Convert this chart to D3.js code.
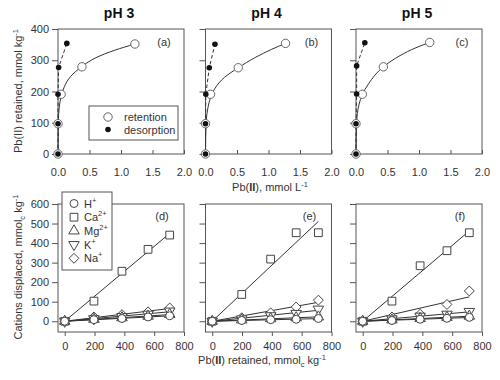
<!DOCTYPE html>
<html><head><meta charset="utf-8">
<script src="https://cdn.jsdelivr.net/npm/d3@7"></script>
<style>
body{margin:0;background:#fff;}
svg{font-family:"Liberation Sans",Arial,Helvetica,sans-serif;}
</style></head>
<body><svg id="c" width="500" height="380"></svg>
<script>
// ---------- DATA ----------
const phTitles = ["pH 3", "pH 4", "pH 5"];
const topLabels = ["(a)", "(b)", "(c)"];
const botLabels = ["(d)", "(e)", "(f)"];
const topXTicks = [0, 0.5, 1.0, 1.5, 2.0];
const topYTicks = [0, 100, 200, 300, 400];
const botXTicks = [0, 200, 400, 600, 800];
const botYTicks = [0, 100, 200, 300, 400, 500, 600];

// retention (open circles), Pb in solution (mmol/L) vs retained (mmol/kg)
const retX = [[0, 0, 0.05, 0.38, 1.22], [0, 0, 0.08, 0.52, 1.27], [0, 0, 0.10, 0.435, 1.17]];
const retY = [[0, 97, 191, 279, 352], [0, 97, 191, 276, 354], [0, 97, 191, 279, 357]];
// desorption (filled dots)
const desX = [[0, 0, 0, 0.01, 0.14], [0, 0, 0.005, 0.06, 0.15], [0, 0, 0.01, 0.01, 0.14]];
const desY = [[0, 97, 191, 277, 354], [0, 97, 191, 276, 351], [0, 97, 192, 282, 356]];
// fitted isotherm curve
const fitX = [[0, 0.005, 0.02, 0.05, 0.1, 0.2, 0.38, 0.6, 0.9, 1.22],
              [0, 0.01, 0.04, 0.08, 0.15, 0.3, 0.52, 0.8, 1.05, 1.27],
              [0, 0.01, 0.05, 0.1, 0.2, 0.435, 0.7, 0.95, 1.17]];
const fitY = [[0, 100, 150, 185, 215, 248, 280, 308, 332, 352],
              [0, 100, 150, 180, 210, 245, 276, 310, 335, 354],
              [0, 100, 160, 190, 225, 279, 315, 340, 357]];

// cations displaced vs Pb retained
const cations = ["H", "Ca", "Mg", "K", "Na"];
const pbRet = [[0, 196, 384, 559, 704], [0, 198, 392, 563, 712], [0, 196, 385, 565, 715]];
const hVals  = [[0, 8, 14, 22, 28], [0, 4, 8, 10, 14], [0, 4, 10, 15, 20]];
const caVals = [[0, 103, 256, 368, 441], [0, 137, 318, 453, 453], [0, 103, 284, 361, 453]];
const mgVals = [[0, 10, 18, 26, 35], [0, 7, 13, 18, 22], [0, 7, 14, 20, 26]];
const kVals  = [[0, 13, 24, 36, 52], [0, 12, 28, 40, 62], [0, 12, 26, 36, 50]];
const naVals = [[0, 22, 34, 48, 68], [0, 18, 43, 73, 108], [0, 22, 36, 86, 155]];

// ---------- LAYOUT ----------
const svg = d3.select("#c");
const lefts = [58, 205.5, 356];
const W = 126;
const topY0 = 29, topY1 = 154;
const botY0 = 204, botY1 = 332;
const ink = "#333", frame = "#555", txt = "#333";
const FS = 11;

function frameRect(g, x0, y0, x1, y1) {
  g.append("rect").attr("x", x0).attr("y", y0).attr("width", x1 - x0).attr("height", y1 - y0)
    .attr("fill", "none").attr("stroke", frame).attr("stroke-width", 1);
}
function styleAxis(sel) {
  sel.select(".domain").remove();
  sel.selectAll("line").attr("stroke", frame);
  sel.selectAll("text").attr("fill", txt).attr("font-size", FS).attr("font-family", "Liberation Sans, Arial, sans-serif");
}

// ---------- TOP PANELS ----------
lefts.forEach((L, i) => {
  const g = svg.append("g");
  const x = d3.scaleLinear().domain([0, 2]).range([L, L + W]);
  const y = d3.scaleLinear().domain([0, 400]).range([topY1, topY0]);

  frameRect(g, L, topY0, L + W, topY1);
  g.append("g").attr("transform", `translate(${L},0)`)
    .call(d3.axisLeft(y).tickValues(topYTicks).tickSize(6).tickPadding(3).tickFormat(i === 0 ? d3.format("d") : ""))
    .call(styleAxis);
  g.append("g").attr("transform", `translate(0,${topY1})`)
    .call(d3.axisBottom(x).tickValues(topXTicks).tickSizeInner(-4).tickSizeOuter(0).tickPadding(14).tickFormat(d3.format(".1f")))
    .call(styleAxis);

  // fitted curve
  const fit = fitX[i].map((v, k) => [v, fitY[i][k]]);
  g.append("path").datum(fit)
    .attr("d", d3.line().x(d => x(d[0])).y(d => y(d[1])).curve(d3.curveMonotoneY))
    .attr("fill", "none").attr("stroke", ink).attr("stroke-width", 1);
  // desorption dashed
  const des = desX[i].map((v, k) => [v, desY[i][k]]);
  g.append("path").datum(des)
    .attr("d", d3.line().x(d => x(d[0])).y(d => y(d[1])))
    .attr("fill", "none").attr("stroke", ink).attr("stroke-width", 1).attr("stroke-dasharray", "3.5,2.5");
  // retention circles
  const ret = retX[i].map((v, k) => [v, retY[i][k]]);
  g.selectAll(".ret").data(ret).enter().append("circle")
    .attr("cx", d => x(d[0])).attr("cy", d => y(d[1])).attr("r", 4.2)
    .attr("fill", "#fff").attr("stroke", "#666").attr("stroke-width", 1);
  g.selectAll(".des").data(des).enter().append("circle")
    .attr("cx", d => x(d[0])).attr("cy", d => y(d[1])).attr("r", 2.8)
    .attr("fill", "#111");

  g.append("text").attr("x", L + W / 2 - 2).attr("y", 18).attr("text-anchor", "middle")
    .attr("font-size", 14).attr("font-weight", "bold").attr("fill", "#111").text(phTitles[i]);
  g.append("text").attr("x", L + W - 20).attr("y", 46).attr("text-anchor", "middle")
    .attr("font-size", FS).attr("fill", txt).text(topLabels[i]);
});

// top legend
{
  const g = svg.append("g");
  g.append("rect").attr("x", 89).attr("y", 106).attr("width", 89).attr("height", 34)
    .attr("fill", "#fff").attr("stroke", frame);
  g.append("circle").attr("cx", 108).attr("cy", 117).attr("r", 4.2).attr("fill", "#fff").attr("stroke", "#666");
  g.append("circle").attr("cx", 108).attr("cy", 129.5).attr("r", 2.8).attr("fill", "#111");
  g.append("text").attr("x", 124).attr("y", 121).attr("font-size", FS).attr("fill", txt).text("retention");
  g.append("text").attr("x", 124).attr("y", 133.5).attr("font-size", FS).attr("fill", txt).text("desorption");
}

// ---------- BOTTOM PANELS ----------
const sym = {
  H: d3.symbol().type(d3.symbolCircle).size(50),
  Ca: d3.symbol().type(d3.symbolSquare).size(60),
  Mg: d3.symbol().type(d3.symbolTriangle).size(48),
  K: d3.symbol().type(d3.symbolTriangle).size(48),
  Na: d3.symbol().type(d3.symbolDiamond2).size(62)
};
const rot = { H: 0, Ca: 0, Mg: 0, K: 180, Na: 0 };
const seriesVals = { H: hVals, Ca: caVals, Mg: mgVals, K: kVals, Na: naVals };

lefts.forEach((L, i) => {
  const g = svg.append("g");
  const x = d3.scaleLinear().domain([-45, 800]).range([L, L + W]);
  const y = d3.scaleLinear().domain([-55, 600]).range([botY1, botY0]);

  frameRect(g, L, botY0, L + W, botY1);
  g.append("g").attr("transform", `translate(${L},0)`)
    .call(d3.axisLeft(y).tickValues(botYTicks).tickSize(6).tickPadding(3).tickFormat(i === 0 ? d3.format("d") : ""))
    .call(styleAxis);
  g.append("g").attr("transform", `translate(0,${botY1})`)
    .call(d3.axisBottom(x).tickValues(botXTicks).tickSizeInner(4).tickSizeOuter(0).tickPadding(6).tickFormat(d3.format("d")))
    .call(styleAxis);

  const xs = pbRet[i];
  // regression lines through origin
  cations.forEach(c => {
    const ys = seriesVals[c][i];
    const slope = d3.sum(xs, (v, k) => v * ys[k]) / d3.sum(xs, v => v * v);
    const xm = xs[xs.length - 1];
    g.append("path").datum([[0, 0], [xm, slope * xm]])
      .attr("d", d3.line().x(d => x(d[0])).y(d => y(d[1])))
      .attr("fill", "none").attr("stroke", ink).attr("stroke-width", 1);
  });
  ["Na", "K", "Mg", "Ca", "H"].forEach(c => {
    const ys = seriesVals[c][i];
    g.selectAll(null).data(xs.map((v, k) => [v, ys[k]])).enter().append("path")
      .attr("d", sym[c])
      .attr("transform", d => `translate(${x(d[0])},${y(d[1])}) rotate(${rot[c]})`)
      .attr("fill", "#fff").attr("stroke", "#444").attr("stroke-width", 1);
  });

  g.append("text").attr("x", L + W - 22).attr("y", 220).attr("text-anchor", "middle")
    .attr("font-size", FS).attr("fill", txt).text(botLabels[i]);
});

// bottom legend
{
  const g = svg.append("g");
  g.append("rect").attr("x", 62).attr("y", 192).attr("width", 50).attr("height", 78)
    .attr("fill", "#fff").attr("stroke", frame);
  const sup = { H: "+", Ca: "2+", Mg: "2+", K: "+", Na: "+" };
  cations.forEach((c, k) => {
    const cy = 203.5 + k * 13.7;
    g.append("path").attr("d", sym[c]).attr("transform", `translate(74,${cy}) rotate(${rot[c]})`)
      .attr("fill", "#fff").attr("stroke", "#444");
    const t = g.append("text").attr("x", 84).attr("y", cy + 4).attr("font-size", FS).attr("fill", txt);
    t.append("tspan").text(c);
    t.append("tspan").attr("dy", -5).attr("font-size", 7.5).text(sup[c]);
  });
}

// ---------- AXIS TITLES ----------
// top x title
{
  const t = svg.append("text").attr("x", 270).attr("y", 191).attr("text-anchor", "middle")
    .attr("font-size", FS).attr("fill", txt);
  t.append("tspan").text("Pb(");
  t.append("tspan").attr("font-weight", "bold").text("II");
  t.append("tspan").text("), mmol L");
  t.append("tspan").attr("dy", -4).attr("font-size", 7.5).text("-1");
}
// bottom x title
{
  const t = svg.append("text").attr("x", 262).attr("y", 364).attr("text-anchor", "middle")
    .attr("font-size", FS).attr("fill", txt);
  t.append("tspan").text("Pb(");
  t.append("tspan").attr("font-weight", "bold").text("II");
  t.append("tspan").text(") retained, mmol");
  t.append("tspan").attr("dy", 3).attr("font-size", 7.5).text("c");
  t.append("tspan").attr("dy", -3).text(" kg");
  t.append("tspan").attr("dy", -4).attr("font-size", 7.5).text("-1");
}
// top y title
{
  const t = svg.append("text").attr("transform", "translate(22,91) rotate(-90)").attr("text-anchor", "middle")
    .attr("font-size", FS).attr("fill", txt);
  t.append("tspan").text("Pb(II) retained, mmol kg");
  t.append("tspan").attr("dy", -4).attr("font-size", 7.5).text("-1");
}
// bottom y title
{
  const t = svg.append("text").attr("transform", "translate(22,267) rotate(-90)").attr("text-anchor", "middle")
    .attr("font-size", FS).attr("fill", txt);
  t.append("tspan").text("Cations displaced, mmol");
  t.append("tspan").attr("dy", 3).attr("font-size", 7.5).text("c");
  t.append("tspan").attr("dy", -3).text(" kg");
  t.append("tspan").attr("dy", -4).attr("font-size", 7.5).text("-1");
}
</script></body></html>
